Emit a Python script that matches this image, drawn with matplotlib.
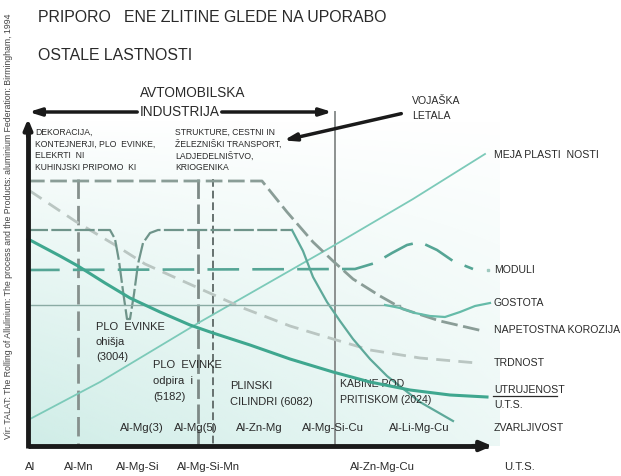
import numpy as np
import matplotlib
matplotlib.use("Agg")
import matplotlib.pyplot as plt

plt.rcParams['font.family'] = ['Liberation Sans Narrow', 'Liberation Sans', 'DejaVu Sans']

# ---------------- data (schematic units) ----------------
utru_x = [28, 60, 78, 105, 130, 160, 190, 213, 250, 290, 333, 370, 410, 450, 487]
utru_y = [240, 257, 267, 284, 299, 313, 326, 334, 346, 360, 373, 383, 391, 396, 398]

mod_x = [28, 355, 375, 392, 407, 420, 437, 453, 473]
mod_y = [271, 270, 264, 254, 246, 243, 251, 262, 270]

gost_flat_x = [28, 400]
gost_flat_y = [306, 306]
gost_x = [385, 400, 415, 430, 445, 460, 475, 490]
gost_y = [306, 309, 314, 317, 318, 313, 307, 304]

nap_x = [28, 262, 287, 313, 333, 353, 380, 403, 440, 483]
nap_y = [182, 182, 213, 243, 262, 280, 297, 310, 322, 332]

trd_x = [30, 75, 115, 145, 185, 243, 290, 333, 370, 420, 477]
trd_y = [192, 222, 246, 265, 283, 309, 327, 340, 351, 359, 364]

zv_plateau_x = [28, 110, 115, 119, 123, 127, 130, 134, 138, 143, 150, 158, 292]
zv_plateau_y = [231, 231, 240, 262, 292, 320, 320, 295, 265, 244, 234, 231, 231]
zv_desc_x = [292, 303, 313, 327, 340, 353, 370, 387, 420, 453]
zv_desc_y = [231, 252, 278, 303, 322, 340, 360, 377, 403, 422]

meja_x = [30, 100, 200, 333, 413, 485]
meja_y = [420, 383, 323, 247, 200, 155]

alloy_lines_x = [78, 198, 213]

row1_labels = ["Al-Mg(3)", "Al-Mg(5)", "Al-Zn-Mg", "Al-Mg-Si-Cu", "Al-Li-Mg-Cu"]
row1_x = [142, 196, 259, 333, 419]
row2_labels = ["Al", "Al-Mn", "Al-Mg-Si", "Al-Mg-Si-Mn", "Al-Zn-Mg-Cu"]
row2_x = [30, 79, 138, 208, 382]

right_labels = ["MEJA PLASTI  NOSTI", "MODULI", "GOSTOTA", "NAPETOSTNA KOROZIJA",
                "TRDNOST", "UTRUJENOST", "U.T.S.", "ZVARLJIVOST"]
right_y = [155, 270, 303, 330, 363, 390, 405, 428]

# ---------------- figure ----------------
fig = plt.figure(figsize=(6.21, 4.77), dpi=100)
ax = fig.add_axes([0, 0, 1, 1])
ax.set_xlim(0, 621)
ax.set_ylim(477, 0)
ax.axis('off')

TXT = '#2a2a2a'

# background tint
ny, nx = 120, 240
yy, xx = np.mgrid[0:1:ny*1j, 0:1:nx*1j]
alpha = np.clip(0.95 * yy**0.9 * (1 - 0.6 * xx), 0, 1)
img = np.zeros((ny, nx, 4))
img[..., 0] = 205/255
img[..., 1] = 236/255
img[..., 2] = 230/255
img[..., 3] = alpha
ax.imshow(img, extent=[28, 500, 447, 120], aspect='auto', zorder=0, interpolation='bilinear')

# vertical alloy lines
ax.plot([alloy_lines_x[0]]*2, [180, 447], color='#86908d', lw=2.0, dashes=(7, 2.5), zorder=2)
ax.plot([alloy_lines_x[1]]*2, [180, 447], color='#7d8986', lw=2.0, dashes=(7, 2), zorder=2)
ax.plot([alloy_lines_x[2]]*2, [180, 447], color='#66716f', lw=1.4, dashes=(4, 2), zorder=2)
ax.plot([335, 335], [113, 447], color='#8c9190', lw=1.4, zorder=2)

# curves
ax.plot(meja_x, meja_y, color='#7ccab9', lw=1.3, zorder=3)
ax.plot(trd_x, trd_y, color='#bac6c2', lw=2.0, dashes=(5, 3), zorder=3)
ax.plot(nap_x, nap_y, color='#8a9d97', lw=2.0, dashes=(6, 2), zorder=3)
ax.plot(zv_plateau_x, zv_plateau_y, color='#6f948a', lw=1.6, dashes=(9, 1.5), zorder=3)
ax.plot(zv_desc_x, zv_desc_y, color='#5ea99a', lw=1.6, zorder=3)
ax.plot(gost_flat_x, gost_flat_y, color='#8aaba4', lw=1.0, zorder=3)
ax.plot(gost_x, gost_y, color='#66bba9', lw=1.6, zorder=3)
ax.plot(mod_x, mod_y, color='#55a595', lw=1.9, dashes=(12, 5), zorder=3)
ax.plot([488], [271], marker='s', ms=2, color='#9fc9bf', zorder=3)
ax.plot(utru_x, utru_y, color='#3fa78f', lw=2.2, zorder=4)

# axes arrows
ax.plot([28, 488], [447, 447], color='#1a1a1a', lw=3.5, solid_capstyle='butt', zorder=5)
ax.annotate('', xy=(495, 447), xytext=(470, 447),
            arrowprops=dict(arrowstyle='-|>,head_length=0.7,head_width=0.3', color='#1a1a1a', lw=3), zorder=5)
ax.plot([28, 28], [449, 128], color='#1a1a1a', lw=3.5, solid_capstyle='butt', zorder=5)
ax.annotate('', xy=(28, 117), xytext=(28, 140),
            arrowprops=dict(arrowstyle='-|>,head_length=0.6,head_width=0.25', color='#1a1a1a', lw=3), zorder=5)

# AVTOMOBILSKA INDUSTRIJA double arrow
ax.annotate('', xy=(26, 113), xytext=(140, 113),
            arrowprops=dict(arrowstyle='-|>,head_length=0.7,head_width=0.22', color='#1a1a1a', lw=2.5))
ax.annotate('', xy=(335, 113), xytext=(219, 113),
            arrowprops=dict(arrowstyle='-|>,head_length=0.7,head_width=0.22', color='#1a1a1a', lw=2.5))
ax.text(193, 93, "AVTOMOBILSKA", fontsize=9.8, color=TXT, ha='center', va='center')
ax.text(180, 112, "INDUSTRIJA", fontsize=9.8, color=TXT, ha='center', va='center')

# VOJASKA LETALA arrow
ax.annotate('', xy=(281, 142), xytext=(404, 114),
            arrowprops=dict(arrowstyle='-|>,head_length=0.7,head_width=0.22', color='#1a1a1a', lw=2.5))
ax.text(412, 101, "VOJAŠKA", fontsize=7.6, color=TXT, ha='left', va='center')
ax.text(412, 116, "LETALA", fontsize=7.6, color=TXT, ha='left', va='center')

# titles
ax.text(38, 17, "PRIPORO   ENE ZLITINE GLEDE NA UPORABO", fontsize=11.4, color=TXT,
        ha='left', va='center')
ax.text(38, 55, "OSTALE LASTNOSTI", fontsize=11.4, color=TXT, ha='left', va='center')

# source text
ax.text(9, 226, "Vir: TALAT: The Rolling of Allulinium: The process and the Products: aluminium Federation: Birmingham, 1994",
        fontsize=6.3, color='#444444', rotation=90, ha='center', va='center')

# application blocks
left_block = ["DEKORACIJA,", "KONTEJNERJI, PLO  EVINKE,", "ELEKRTI  NI", "KUHINJSKI PRIPOMO  KI"]
mid_block = ["STRUKTURE, CESTNI IN", "ŽELEZNIŠKI TRANSPORT,", "LADJEDELNIŠTVO,", "KRIOGENIKA"]
block_y = [132, 144, 156, 168]
for s, y in zip(left_block, block_y):
    ax.text(35, y, s, fontsize=6.2, color=TXT, ha='left', va='center')
for s, y in zip(mid_block, block_y):
    ax.text(175, y, s, fontsize=6.2, color=TXT, ha='left', va='center')

# in-plot labels
for s, y in zip(["PLO  EVINKE", "ohišja", "(3004)"], [327, 342, 357]):
    ax.text(96, y, s, fontsize=8.0, color=TXT, ha='left', va='center')
for s, y in zip(["PLO  EVINKE", "odpira  i", "(5182)"], [365, 381, 397]):
    ax.text(153, y, s, fontsize=8.0, color=TXT, ha='left', va='center')
for s, y in zip(["PLINSKI", "CILINDRI (6082)"], [386, 402]):
    ax.text(230, y, s, fontsize=8.0, color=TXT, ha='left', va='center')
for s, y in zip(["KABINE POD", "PRITISKOM (2024)"], [384, 400]):
    ax.text(340, y, s, fontsize=7.6, color=TXT, ha='left', va='center')

# alloy labels
for s, x in zip(row1_labels, row1_x):
    ax.text(x, 428, s, fontsize=8.2, color=TXT, ha='center', va='center')
for s, x in zip(row2_labels, row2_x):
    ax.text(x, 467, s, fontsize=8.2, color=TXT, ha='center', va='center')
ax.text(504, 467, "U.T.S.", fontsize=8.2, color=TXT, ha='left', va='center')

# right labels
for s, y in zip(right_labels, right_y):
    ax.text(494, y, s, fontsize=7.6, color=TXT, ha='left', va='center')
ax.plot([493, 557], [397, 397], color=TXT, lw=0.9)

fig.savefig("out.png", dpi=100)
